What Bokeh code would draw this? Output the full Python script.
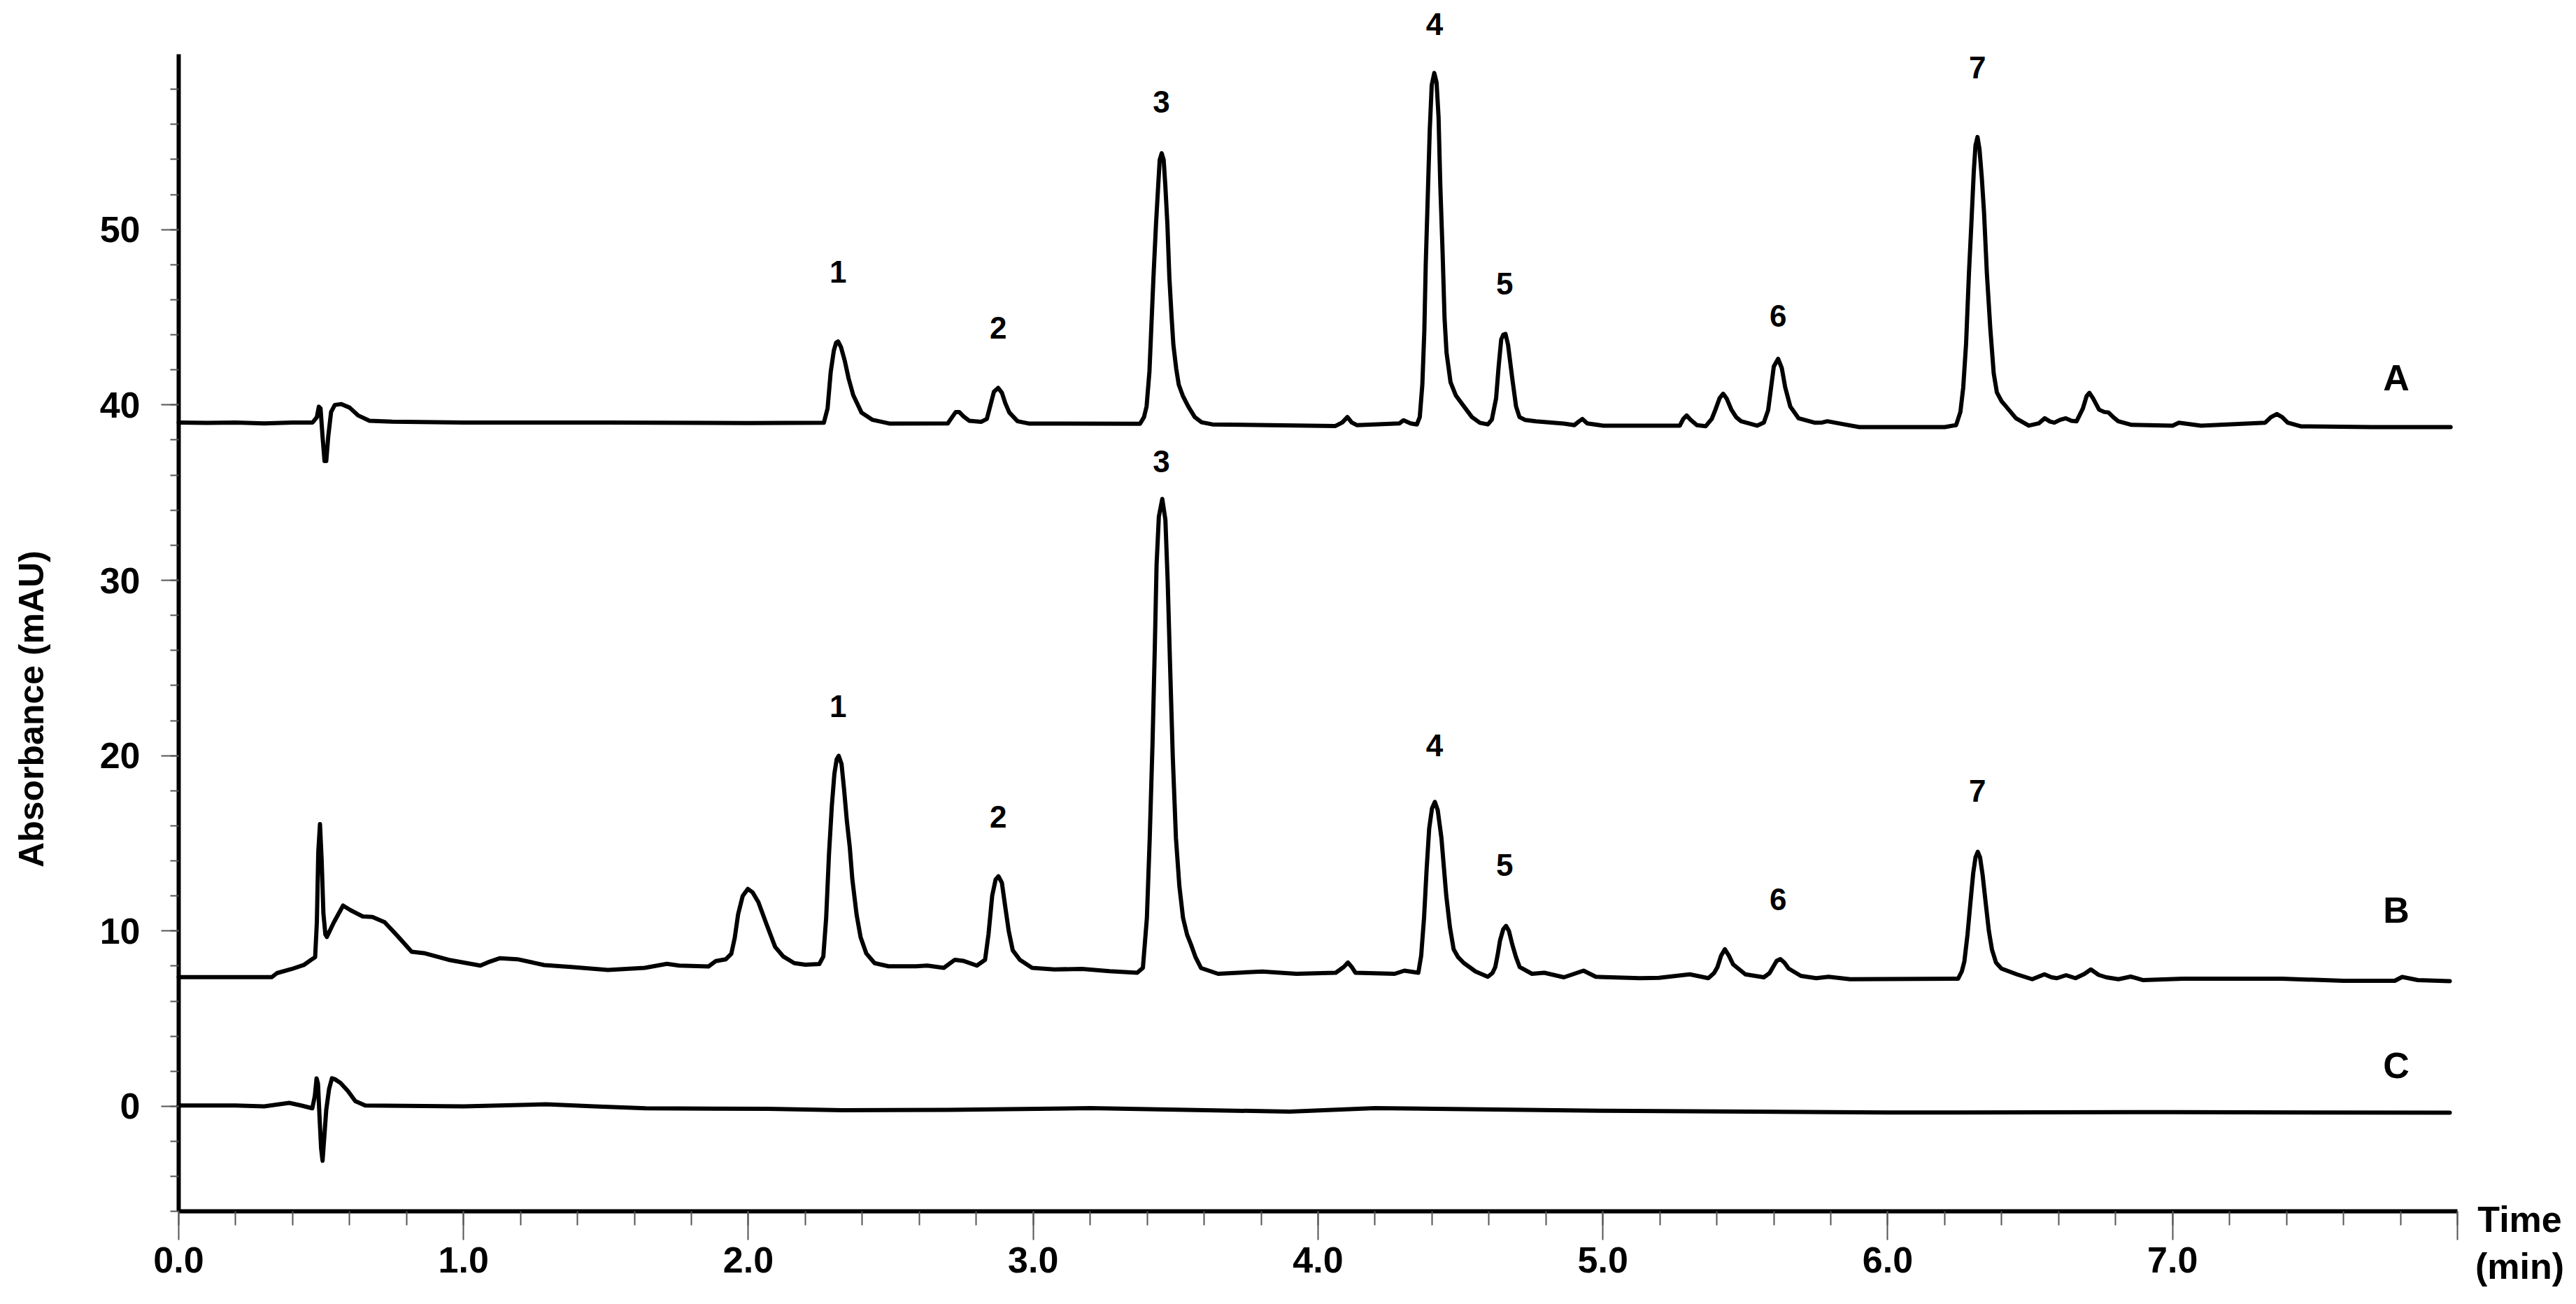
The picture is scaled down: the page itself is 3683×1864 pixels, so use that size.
from bokeh.plotting import figure
from bokeh.models import Range1d, FixedTicker, ColumnDataSource, PrintfTickFormatter
from bokeh.core.properties import value
from bokeh.embed import file_html
from bokeh.resources import INLINE
import math

FONT = "Liberation Sans"

# ---------------- data ----------------
# Trace A (time in min, absorbance in mAU)
time_a = [0.00, 0.10, 0.20, 0.30, 0.40, 0.47, 0.485, 0.492, 0.498, 0.505, 0.512, 0.518, 0.525, 0.535,
          0.548, 0.570, 0.600, 0.630, 0.670, 0.750, 1.000, 1.500, 2.000, 2.265, 2.278, 2.289, 2.300,
          2.308, 2.315, 2.325, 2.338, 2.352, 2.368, 2.397, 2.436, 2.495, 2.700, 2.715, 2.728, 2.740,
          2.755, 2.775, 2.818, 2.837, 2.850, 2.862, 2.877, 2.890, 2.902, 2.916, 2.945, 2.984,
          3.375, 3.389, 3.398, 3.408, 3.414, 3.422, 3.431, 3.439, 3.444, 3.451, 3.458, 3.464, 3.471,
          3.478, 3.486, 3.492, 3.502, 3.511, 3.525, 3.544, 3.567, 3.591, 3.629, 4.061, 4.085, 4.103,
          4.118, 4.136, 4.286, 4.300, 4.325, 4.347, 4.357, 4.366, 4.373, 4.378, 4.385, 4.392, 4.399,
          4.408, 4.416, 4.423, 4.429, 4.437, 4.444, 4.451, 4.465, 4.484, 4.512, 4.540, 4.568, 4.596,
          4.610, 4.625, 4.634, 4.643, 4.650, 4.658, 4.667, 4.681, 4.695, 4.707, 4.726, 4.765, 4.863,
          4.900, 4.915, 4.928, 4.945, 5.000, 5.270, 5.282, 5.294, 5.308, 5.330, 5.361, 5.382, 5.395,
          5.410, 5.422, 5.435, 5.451, 5.468, 5.485, 5.541, 5.565, 5.580, 5.592, 5.600, 5.615, 5.628,
          5.640, 5.658, 5.687, 5.743, 5.770, 5.788, 5.844, 5.900, 6.200, 6.240, 6.255, 6.265, 6.275,
          6.285, 6.293, 6.302, 6.308, 6.315, 6.322, 6.330, 6.338, 6.348, 6.360, 6.372, 6.383, 6.400,
          6.416, 6.450, 6.495, 6.530, 6.551, 6.570, 6.585, 6.605, 6.625, 6.645, 6.663, 6.685, 6.698,
          6.708, 6.720, 6.742, 6.760, 6.775, 6.792, 6.809, 6.854, 7.000, 7.022, 7.100, 7.325, 7.345,
          7.366, 7.385, 7.404, 7.450, 7.700, 7.976]
abs_a = [39.00, 38.98, 39.00, 38.95, 39.00, 39.00, 39.30, 39.90, 39.80, 38.20, 36.80, 36.80, 38.20, 39.60,
         40.00, 40.05, 39.85, 39.40, 39.10, 39.05, 39.00, 39.00, 38.97, 38.99, 39.80, 41.88, 43.10,
         43.55, 43.62, 43.30, 42.54, 41.50, 40.56, 39.57, 39.15, 38.94, 38.95, 39.30, 39.60, 39.60,
         39.35, 39.10, 39.04, 39.20, 40.00, 40.75, 40.97, 40.70, 40.10, 39.57, 39.07, 38.94,
         38.93, 39.31, 39.92, 41.91, 44.20, 47.25, 50.30, 52.59, 53.97, 54.35, 53.97, 52.44, 50.30,
         47.25, 44.96, 43.43, 42.06, 41.15, 40.53, 39.92, 39.31, 39.01, 38.89, 38.80, 39.00, 39.31,
         39.00, 38.85, 38.95, 39.13, 38.95, 38.89, 39.31, 41.15, 44.20, 48.02, 51.83, 55.65, 58.24,
         58.93, 58.39, 56.41, 52.59, 48.78, 44.96, 42.98, 41.30, 40.53, 39.92, 39.31, 38.98, 38.89,
         39.16, 40.38, 42.21, 43.74, 44.00, 44.05, 43.43, 41.60, 39.92, 39.31, 39.15, 39.07, 38.94,
         38.85, 39.05, 39.20, 38.95, 38.82, 38.82, 39.20, 39.40, 39.15, 38.85, 38.79, 39.20, 39.73,
         40.40, 40.64, 40.35, 39.73, 39.30, 39.07, 38.82, 39.00, 39.70, 41.20, 42.20, 42.63, 42.10,
         41.00, 39.90, 39.24, 38.99, 39.00, 39.07, 38.90, 38.74, 38.74, 38.85, 39.60, 41.00, 43.50,
         47.50, 50.15, 53.30, 54.80, 55.28, 54.60, 53.00, 50.98, 47.50, 44.36, 41.80, 40.72, 40.20,
         39.90, 39.24, 38.82, 38.95, 39.24, 39.05, 38.99, 39.15, 39.24, 39.10, 39.07, 39.80, 40.50,
         40.69, 40.40, 39.73, 39.60, 39.57, 39.30, 39.07, 38.87, 38.82, 38.99, 38.82, 38.99, 39.30,
         39.48, 39.30, 38.99, 38.78, 38.74, 38.74]

# Trace B
time_b = [0.000, 0.200, 0.327, 0.345, 0.396, 0.439, 0.465, 0.479, 0.485, 0.490, 0.496, 0.502, 0.508,
          0.515, 0.520, 0.545, 0.577, 0.603, 0.646, 0.680, 0.723, 0.767, 0.818, 0.861, 0.947, 1.059,
          1.085, 1.128, 1.189, 1.283, 1.378, 1.507, 1.636, 1.714, 1.757, 1.860, 1.886, 1.921, 1.940,
          1.952, 1.964, 1.980, 1.998, 2.015, 2.035, 2.064, 2.094, 2.123, 2.161, 2.200, 2.249, 2.263,
          2.273, 2.283, 2.293, 2.302, 2.310, 2.317, 2.327, 2.336, 2.346, 2.356, 2.365, 2.380, 2.394,
          2.414, 2.443, 2.492, 2.589, 2.628, 2.686, 2.725, 2.754, 2.802, 2.831, 2.843, 2.856, 2.868,
          2.878, 2.890, 2.901, 2.914, 2.928, 2.953, 2.996, 3.074, 3.171, 3.268, 3.365, 3.385, 3.399,
          3.409, 3.419, 3.427, 3.433, 3.441, 3.453, 3.464, 3.472, 3.480, 3.490, 3.501, 3.513, 3.526,
          3.540, 3.554, 3.570, 3.589, 3.649, 3.804, 3.924, 4.062, 4.090, 4.105, 4.118, 4.131, 4.269,
          4.303, 4.352, 4.362, 4.372, 4.381, 4.390, 4.400, 4.410, 4.420, 4.433, 4.450, 4.463, 4.476,
          4.492, 4.510, 4.553, 4.596, 4.612, 4.622, 4.630, 4.639, 4.650, 4.660, 4.670, 4.682, 4.695,
          4.708, 4.751, 4.794, 4.863, 4.932, 4.975, 5.130, 5.197, 5.305, 5.370, 5.390, 5.402, 5.415,
          5.428, 5.442, 5.457, 5.500, 5.565, 5.585, 5.597, 5.610, 5.623, 5.637, 5.652, 5.695, 5.749,
          5.792, 5.868, 6.247, 6.260, 6.269, 6.280, 6.290, 6.300, 6.308, 6.316, 6.324, 6.333, 6.344,
          6.355, 6.366, 6.380, 6.399, 6.453, 6.507, 6.530, 6.550, 6.575, 6.594, 6.626, 6.659, 6.690,
          6.713, 6.740, 6.767, 6.810, 6.853, 6.897, 7.037, 7.384, 7.601, 7.780, 7.806, 7.861, 7.973]
abs_b = [7.37, 7.37, 7.37, 7.60, 7.83, 8.06, 8.36, 8.51, 10.50, 14.50, 16.10, 14.00, 11.00,
         9.80, 9.66, 10.50, 11.45, 11.19, 10.83, 10.80, 10.50, 9.74, 8.82, 8.74, 8.36, 8.03,
         8.21, 8.45, 8.39, 8.06, 7.95, 7.78, 7.90, 8.13, 8.03, 7.98, 8.29, 8.39, 8.70,
         9.60, 10.96, 12.00, 12.40, 12.20, 11.65, 10.37, 9.09, 8.54, 8.17, 8.08, 8.12, 8.54,
         10.74, 14.40, 17.15, 18.98, 19.80, 19.99, 19.53, 18.06, 16.23, 14.77, 12.94, 10.92, 9.64,
         8.72, 8.17, 7.99, 7.99, 8.03, 7.90, 8.36, 8.30, 8.03, 8.36, 9.82, 12.02, 12.94,
         13.12, 12.75, 11.47, 10.00, 8.90, 8.36, 7.90, 7.81, 7.84, 7.71, 7.62, 7.90, 10.74,
         15.31, 20.81, 26.30, 30.88, 33.63, 34.64, 33.45, 29.97, 25.39, 19.89, 15.31, 12.57, 10.74,
         9.80, 9.22, 8.50, 7.89, 7.56, 7.69, 7.56, 7.62, 7.95, 8.20, 7.95, 7.62, 7.56,
         7.74, 7.62, 8.60, 10.74, 13.50, 15.83, 17.00, 17.36, 16.90, 15.32, 12.02, 10.20, 8.96,
         8.50, 8.20, 7.69, 7.39, 7.60, 7.94, 8.60, 9.47, 10.10, 10.29, 10.00, 9.22, 8.50,
         7.94, 7.56, 7.62, 7.36, 7.74, 7.39, 7.31, 7.33, 7.53, 7.31, 7.60, 7.94, 8.60,
         8.96, 8.60, 8.10, 7.53, 7.36, 7.60, 7.94, 8.30, 8.40, 8.20, 7.86, 7.44, 7.31,
         7.39, 7.25, 7.28, 7.70, 8.27, 9.80, 11.58, 13.30, 14.20, 14.52, 14.20, 13.20, 11.58,
         10.00, 8.93, 8.20, 7.86, 7.53, 7.25, 7.40, 7.53, 7.36, 7.31, 7.48, 7.31, 7.55,
         7.81, 7.50, 7.36, 7.25, 7.40, 7.20, 7.28, 7.28, 7.16, 7.16, 7.38, 7.20, 7.14]

# Trace C
time_c = [0.000, 0.200, 0.300, 0.388, 0.430, 0.469, 0.478, 0.484, 0.489, 0.495, 0.500, 0.505, 0.510,
          0.518, 0.528, 0.538, 0.548, 0.568, 0.594, 0.620, 0.655, 1.000, 1.290, 1.460, 1.640, 2.070,
          2.330, 2.700, 3.200, 3.900, 4.200, 5.000, 6.000, 7.000, 7.973]
abs_c = [0.05, 0.05, 0.00, 0.20, 0.05, -0.11, 0.60, 1.60, 1.30, -0.80, -2.40, -3.10, -2.00,
         -0.20, 1.00, 1.60, 1.55, 1.34, 0.88, 0.30, 0.05, 0.00, 0.12, 0.00, -0.11, -0.14,
         -0.22, -0.20, -0.10, -0.30, -0.10, -0.25, -0.35, -0.33, -0.36]

# Peak numbering
peak_ids = ["1", "2", "3", "4", "5", "6", "7"]
peak_time = [2.315, 2.877, 3.450, 4.409, 4.655, 5.615, 6.315]
label_y_a = [47.6, 44.4, 57.3, 61.7, 46.9, 45.1, 59.25]
label_y_b = [22.8, 16.5, 36.8, 20.6, 13.75, 11.8, 18.0]

# Trace names
trace_names = ["A", "B", "C"]
trace_name_x = [7.785, 7.785, 7.785]
trace_name_y = [41.56, 11.2, 2.35]

# Axes
x_major = [0, 1, 2, 3, 4, 5, 6, 7, 8]
x_minor = [i / 5 for i in range(0, 41)]
y_major = [0, 10, 20, 30, 40, 50]
y_minor = list(range(-6, 60, 2))
y_title = "Absorbance (mAU)"
x_title = ["Time", "(min)"]

# ---------------- figure ----------------
W, H = 3667, 1848
p = figure(width=W, height=H,
           x_range=Range1d(-0.62615, 8.37815), y_range=Range1d(-10.652, 63.073),
           output_backend="svg", toolbar_location=None,
           min_border_left=0, min_border_right=0, min_border_top=0, min_border_bottom=0)
p.title.visible = False
p.outline_line_color = None
p.grid.visible = False
p.background_fill_color = "white"
p.border_fill_color = "white"

for xs, ys in [(time_a, abs_a), (time_b, abs_b), (time_c, abs_c)]:
    p.line(xs, ys, line_color="black", line_width=6, line_join="round", line_cap="round")

# peak labels
for ly in (label_y_a, label_y_b):
    src = ColumnDataSource(dict(x=peak_time, y=ly, t=peak_ids))
    p.text(x="x", y="y", text="t", source=src, text_font=value(FONT), text_font_style="bold",
           text_font_size="44px", text_align="center", text_baseline="middle", text_color="black")

src_n = ColumnDataSource(dict(x=trace_name_x, y=trace_name_y, t=trace_names))
p.text(x="x", y="y", text="t", source=src_n, text_font=value(FONT), text_font_style="bold",
       text_font_size="52px", text_align="center", text_baseline="middle", text_color="black")

# axis titles (as text placed next to the axes)
p.text(x=[-0.5157], y=[22.66], text=[y_title], angle=math.pi / 2,
       text_font=value(FONT), text_font_style="bold", text_font_size="50px",
       text_align="center", text_baseline="middle", text_color="black")
p.text(x=[8.2186, 8.2186], y=[-6.46, -9.13], text=x_title,
       text_font=value(FONT), text_font_style="bold", text_font_size="52px",
       text_align="center", text_baseline="middle", text_color="black")

# x axis
xa = p.xaxis[0]
xa.fixed_location = -6
xa.bounds = (0, 8)
xa.ticker = FixedTicker(ticks=x_major, minor_ticks=x_minor)
xa.formatter = PrintfTickFormatter(format="%.1f")
xa.major_label_overrides = {8: ""}
xa.axis_line_width = 6
xa.axis_line_color = "black"
xa.major_tick_out = 41
xa.major_tick_in = 0
xa.minor_tick_out = 20
xa.minor_tick_in = 0
xa.major_tick_line_color = "#555555"
xa.minor_tick_line_color = "#555555"
xa.major_tick_line_width = 2
xa.minor_tick_line_width = 2
xa.major_label_text_font = FONT
xa.major_label_text_font_style = "bold"
xa.major_label_text_font_size = "52px"
xa.major_label_text_color = "black"
xa.major_label_standoff = 10

# y axis
ya = p.yaxis[0]
ya.fixed_location = 0
ya.bounds = (-6, 60)
ya.ticker = FixedTicker(ticks=y_major, minor_ticks=y_minor)
ya.axis_line_width = 6
ya.axis_line_color = "black"
ya.major_tick_out = 25
ya.major_tick_in = 0
ya.minor_tick_out = 12
ya.minor_tick_in = 0
ya.major_tick_line_color = "#555555"
ya.minor_tick_line_color = "#555555"
ya.major_tick_line_width = 2
ya.minor_tick_line_width = 2
ya.major_label_text_font = FONT
ya.major_label_text_font_style = "bold"
ya.major_label_text_font_size = "52px"
ya.major_label_text_color = "black"
ya.major_label_standoff = 30

open("out.html", "w").write(file_html(p, INLINE))
